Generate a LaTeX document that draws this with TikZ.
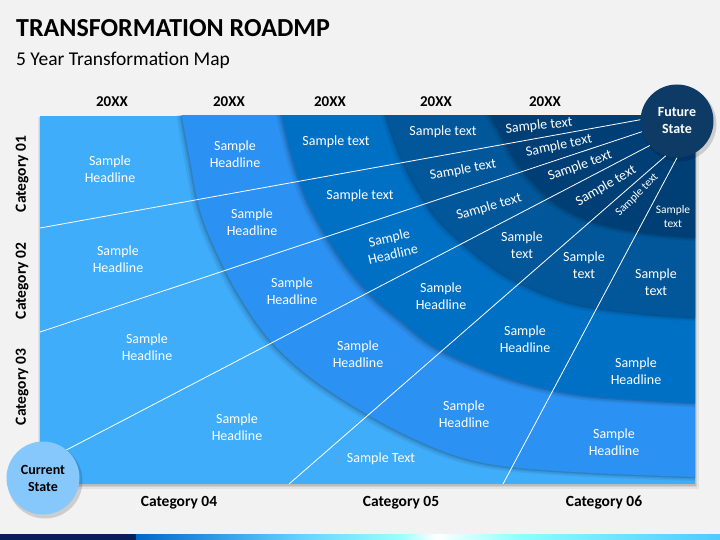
\documentclass[tikz,border=0pt]{standalone}
\usepackage{fontspec}
\setmainfont{Carlito}
\usetikzlibrary{calc}
\definecolor{bg}{HTML}{F2F2F2}
\definecolor{bandA}{HTML}{40ADFB}
\definecolor{bandB}{HTML}{2B91F2}
\definecolor{bandC}{HTML}{0070C4}
\definecolor{bandD}{HTML}{01579A}
\definecolor{bandE}{HTML}{003E76}
\definecolor{cscol}{HTML}{86C7FC}
\definecolor{fscol}{HTML}{0E3A66}
\definecolor{navy}{HTML}{0C1E5A}
\begin{document}
\begin{tikzpicture}[x=1pt,y=-1pt,
  lbl/.style={text=white, font=\fontsize{14}{17}\selectfont, align=center, inner sep=0pt},
  sml/.style={text=white, font=\fontsize{11.5}{14}\selectfont, align=center, inner sep=0pt},
  hdr/.style={font=\bfseries\fontsize{15.5}{18}\selectfont, inner sep=0pt},
  yr/.style={font=\bfseries\fontsize{15}{18}\selectfont, inner sep=0pt},
  ray/.style={draw=white, line width=0.8pt},
  arcshadow/.style={fill=black, opacity=#1},
  pB/.style={insert path={(180,90) -- plot[smooth, tension=0.6] coordinates {(182,116) (190,160) (200,210) (217,253) (240,297) (270,340) (310,377) (360,410) (410,437) (460,457) (510,467) (593,473) (695,477)} -- (720,478) -- (720,90) -- cycle}},
  pC/.style={insert path={(278,90) -- plot[smooth, tension=0.6] coordinates {(282,116) (293,160) (307,200) (327,237) (347,267) (373,297) (400,320) (440,350) (507,378) (573,394) (640,400) (695,403)} -- (720,404) -- (720,90) -- cycle}},
  pD/.style={insert path={(380,90) -- plot[smooth, tension=0.6] coordinates {(387,116) (400,153) (417,187) (437,217) (460,240) (487,262) (517,281) (573,303) (640,313) (695,317)} -- (720,318) -- (720,90) -- cycle}},
  pE/.style={insert path={(478,90) -- plot[smooth, tension=0.6] coordinates {(492,116) (505,140) (520,165) (540,188) (560,205) (593,221) (643,232) (695,237)} -- (720,238) -- (720,90) -- cycle}},
  circ/.style={circle, minimum size=73pt, inner sep=0pt, align=center, font=\bfseries\fontsize{14}{17}\selectfont}
]
\useasboundingbox (0,0) rectangle (720,540);
\fill[bg] (0,0) rectangle (720,540);

% titles
\node[anchor=base west, inner sep=0pt, font=\bfseries\fontsize{26}{30}\selectfont] (title) at (16,37) {TRANSFORMATION ROADMP};
\node[anchor=base west, inner sep=0pt, font=\fontsize{19.5}{23}\selectfont] (subtitle) at (16,66) {5 Year Transformation Map};

% years
\node[yr] (y1) at (112,102) {20XX};
\node[yr] (y2) at (229,102) {20XX};
\node[yr] (y3) at (330,102) {20XX};
\node[yr] (y4) at (436,102) {20XX};
\node[yr] (y5) at (545,102) {20XX};

% categories
\node[hdr, rotate=90] (c1) at (22,174) {Category 01};
\node[hdr, rotate=90] (c2) at (22,281) {Category 02};
\node[hdr, rotate=90] (c3) at (22,387) {Category 03};
\node[hdr] (c4) at (179,503) {Category 04};
\node[hdr] (c5) at (401,503) {Category 05};
\node[hdr] (c6) at (604,503) {Category 06};

% rectangle shadow
\fill[black, opacity=0.06] (38,117) rectangle (699,489);
\fill[black, opacity=0.08] (39,117) rectangle (697,487);
\fill[black, opacity=0.10] (40,117) rectangle (696,486);

\begin{scope}
\clip (40,116) rectangle (695,484);
\fill[bandA] (40,116) rectangle (695,484);
\foreach \p/\c in {pB/bandB, pC/bandC, pD/bandD, pE/bandE}{
  \fill[arcshadow=0.06, shift={(-5,4)}, \p];
  \fill[arcshadow=0.08, shift={(-3,2.5)}, \p];
  \fill[arcshadow=0.12, shift={(-1.5,1.2)}, \p];
  \fill[\c, \p];
}
\end{scope}

% circles
\fill[black, opacity=0.15] (679,124) circle (37.5);
\fill[black, opacity=0.15] (45,481) circle (37.5);
\node[circ, fill=fscol, text=white] (fs) at (677,121) {Future\\State};
\node[circ, fill=cscol, text=black] (cs) at (43,478) {Current\\State};

% rays
\coordinate (l1) at (40,228);
\coordinate (l2) at (40,332);
\coordinate (b4) at (289,484);
\coordinate (b5) at (503,484);
\draw[ray] (l1) -- (fs.178);
\draw[ray] (l2) -- (fs.197);
\draw[ray] (cs.50) -- (fs.222);
\draw[ray] (b4) -- (fs.252);
\draw[ray] (b5) -- (fs.270);

% band A labels
\node[lbl] (a1) at (110,169) {Sample\\Headline};
\node[lbl] (a2) at (118,259) {Sample\\Headline};
\node[lbl] (a3) at (147,347) {Sample\\Headline};
\node[lbl] (a4) at (237,427) {Sample\\Headline};
\node[lbl] (a5) at (381,459) {Sample Text};
% band B labels
\node[lbl] (b1l) at (235,154) {Sample\\Headline};
\node[lbl] (b2l) at (252,222) {Sample\\Headline};
\node[lbl] (b3l) at (292,291) {Sample\\Headline};
\node[lbl] (b4l) at (358,354) {Sample\\Headline};
\node[lbl] (b5l) at (464,414) {Sample\\Headline};
\node[lbl] (b6l) at (614,442) {Sample\\Headline};
% band C labels
\node[lbl] (cc1) at (336,142) {Sample text};
\node[lbl] (cc2) at (360,196) {Sample text};
\node[lbl, rotate=13] (cc3) at (391,246) {Sample\\Headline};
\node[lbl] (cc4) at (441,296) {Sample\\Headline};
\node[lbl] (cc5) at (525,339) {Sample\\Headline};
\node[lbl] (cc6) at (636,371) {Sample\\Headline};
% band D labels
\node[lbl] (d1) at (443,132) {Sample text};
\node[lbl, rotate=10] (d2) at (463,170) {Sample text};
\node[lbl, rotate=16] (d3) at (489,207) {Sample text};
\node[lbl] (d4) at (522,245) {Sample\\text};
\node[lbl] (d5) at (584,265) {Sample\\text};
\node[lbl] (d6) at (656,282) {Sample\\text};
% band E labels
\node[lbl, rotate=6] (e1) at (539,126) {Sample text};
\node[lbl, rotate=12] (e2) at (559,146) {Sample text};
\node[lbl, rotate=20] (e3) at (580,166) {Sample text};
\node[lbl, rotate=30] (e4) at (606,186) {Sample text};
\node[sml, rotate=45] (e5) at (637,195) {Sample text};
\node[sml] (e6) at (673,217) {Sample\\text};

% bottom bar
\fill[navy] (0,534) rectangle (136,540);
\shade[left color=blue!50!cyan!80!black, right color=cyan!70!blue!60] (136,534) rectangle (300,540);
\shade[left color=cyan!70!blue!60, right color=cyan!40] (300,534) rectangle (400,540);
\shade[left color=cyan!40, right color=white] (400,534) rectangle (436,540);
\shade[left color=white, right color=cyan!45] (436,534) rectangle (520,540);
\shade[left color=cyan!45, right color=cyan!70!blue!70] (520,534) rectangle (720,540);
\end{tikzpicture}
\end{document}
